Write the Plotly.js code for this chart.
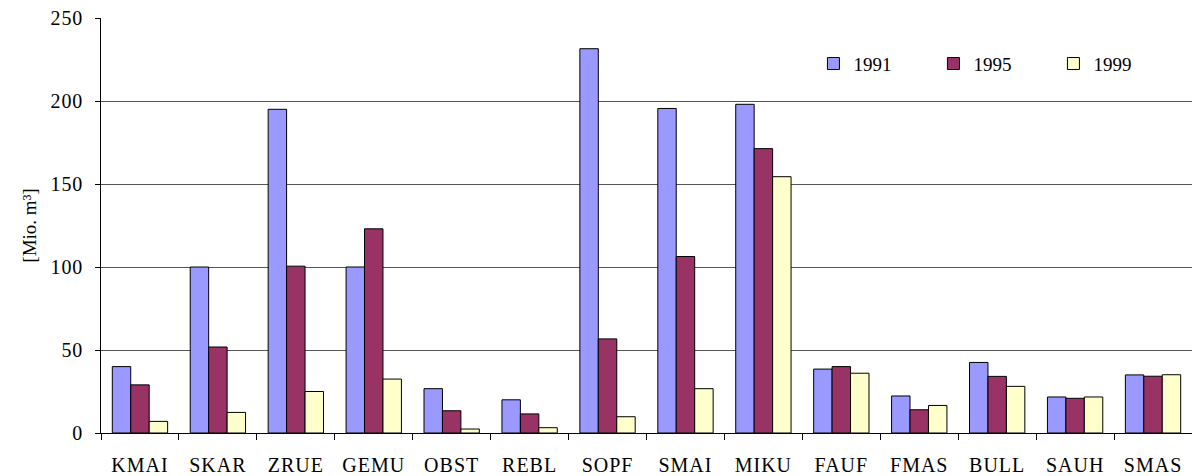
<!DOCTYPE html>
<html>
<head>
<meta charset="utf-8">
<script src="https://cdn.plot.ly/plotly-3.0.1.min.js"></script>
<style>
html,body{margin:0;padding:0;background:#fff;}
#chart{width:1192px;height:476px;}
#chart .xtick text{letter-spacing:1px;}
#chart .ytick text{letter-spacing:0.8px;}
</style>
</head>
<body>
<div id="chart"></div>
<script>
const categories = ["KMAI","SKAR","ZRUE","GEMU","OBST","REBL","SOPF","SMAI","MIKU","FAUF","FMAS","BULL","SAUH","SMAS"];
const values1991 = [40, 100, 195, 100, 26.7, 20, 231.5, 195.5, 198, 38.5, 22.3, 42.5, 21.7, 35];
const values1995 = [29, 51.8, 100.5, 123, 13.4, 11.5, 56.7, 106.3, 171.3, 40, 14, 34.1, 20.9, 34.2];
const values1999 = [7, 12.4, 25, 32.5, 2.4, 3.2, 9.8, 26.7, 154.4, 36, 16.6, 28.1, 21.7, 35.1];
const seriesNames = ["1991","1995","1999"];
const yTicks = [0, 50, 100, 150, 200, 250];

const colors = ["#9999FF", "#993366", "#FFFFCC"];
const allValues = [values1991, values1995, values1999];
const traces = allValues.map((v, i) => ({
  type: "bar",
  name: seriesNames[i],
  x: categories,
  y: v,
  marker: {color: colors[i], line: {color: "#000", width: 1}},
  hoverinfo: "x+y+name"
}));

const serif = "Liberation Serif, Times New Roman, serif";
const layout = {
  width: 1192, height: 476,
  margin: {l: 101, r: 0, t: 18, b: 43, autoexpand: false},
  paper_bgcolor: "#fff", plot_bgcolor: "#fff",
  barmode: "group",
  bargap: 0.29,
  bargroupgap: 0,
  font: {family: serif, size: 20, color: "#000"},
  showlegend: true,
  legend: {
    orientation: "h",
    x: 0.653, y: 0.89, xanchor: "left", yanchor: "middle",
    entrywidth: 75, entrywidthmode: "pixels",
    font: {family: serif, size: 19, color: "#000"},
    bgcolor: "rgba(0,0,0,0)",
    traceorder: "normal"
  },
  xaxis: {
    type: "category",
    showline: true, linecolor: "#000", linewidth: 1,
    ticks: "outside", ticklen: 6, tickcolor: "#000",
    tickson: "boundaries",
    ticklabelstandoff: 14,
    tickfont: {family: serif, size: 20, color: "#000"},
    showgrid: false, zeroline: false
  },
  yaxis: {
    range: [0, 250],
    tickvals: yTicks,
    ticktext: yTicks.map(String),
    showline: true, linecolor: "#000", linewidth: 1,
    ticks: "outside", ticklen: 5, tickcolor: "#000",
    ticklabelstandoff: 8,
    tickfont: {family: serif, size: 20, color: "#000"},
    showgrid: true, gridcolor: "#555", gridwidth: 1,
    zeroline: false,
    title: {text: "[Mio. m³]", font: {family: serif, size: 19, color: "#000"}, standoff: 11}
  }
};

Plotly.newPlot("chart", traces, layout, {displayModeBar: false, staticPlot: true});
</script>
</body>
</html>
